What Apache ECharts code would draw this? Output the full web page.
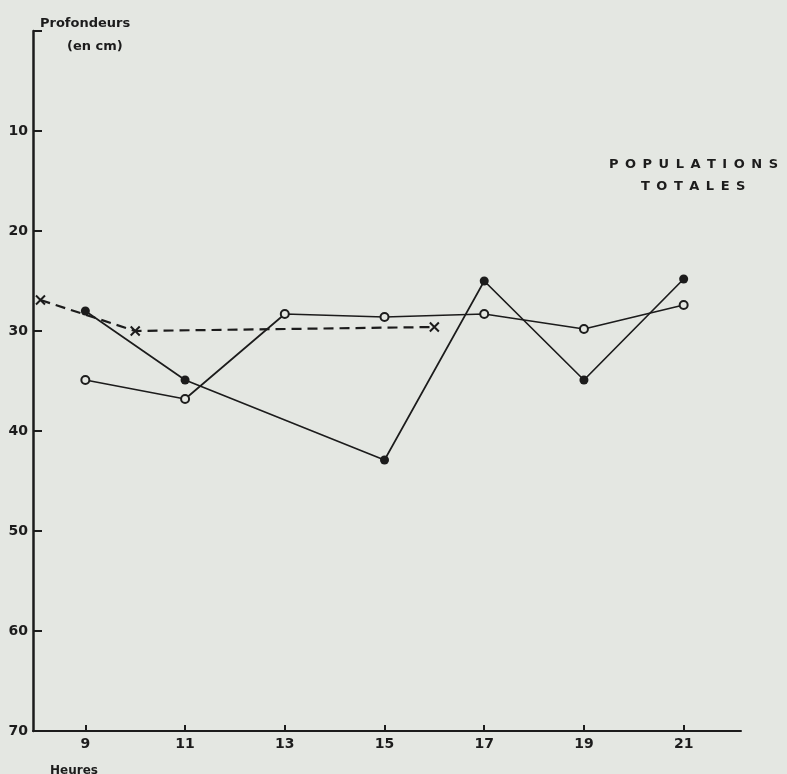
<!DOCTYPE html>
<html><head><meta charset="utf-8">
<script src="https://cdn.jsdelivr.net/npm/echarts@6/dist/echarts.min.js"></script>
<style>html,body{margin:0;padding:0;background:#e4e7e2;}#c{width:787px;height:774px;}</style>
</head><body><div id="c"></div>
<script>
// Data (hours, depth in cm)
const xTicks = [9, 11, 13, 15, 17, 19, 21];
const yTicks = [10, 20, 30, 40, 50, 60, 70];
const crossHours = [8.1, 10, 16];
const crossDepth = [26.9, 30.0, 29.6];
const filledHours = [9, 11, 15, 17, 19, 21];
const filledDepth = [28.0, 34.9, 42.9, 25.0, 34.9, 24.8];
const openHours = [9, 11, 13, 15, 17, 19, 21];
const openDepth = [34.9, 36.8, 28.3, 28.6, 28.3, 29.8, 27.4];

const ink = '#1c1c1c';
const bg = '#e4e7e2';
const font = "'DejaVu Sans', sans-serif";
const zip = (a, b) => a.map((v, i) => [v, b[i]]);

const chart = echarts.init(document.getElementById('c'), null, {renderer: 'canvas'});
chart.setOption({
  backgroundColor: bg,
  animation: false,
  grid: {left: 33, right: 46, top: 31, bottom: 43, containLabel: false},
  title: [
    {text: 'Profondeurs', left: 35, top: 12, textStyle: {fontFamily: font, fontSize: 13, fontWeight: 'bold', color: ink}},
    {text: '(en cm)', left: 62, top: 35, textStyle: {fontFamily: font, fontSize: 13, fontWeight: 'bold', color: ink}},
    {text: 'P\u2002O\u2002P\u2002U\u2002L\u2002A\u2002T\u2002I\u2002O\u2002N\u2002S', right: 4, top: 153, textStyle: {fontFamily: font, fontSize: 13, fontWeight: 'bold', color: ink}},
    {text: 'T\u2002O\u2002T\u2002A\u2002L\u2002E\u2002S', left: 636, top: 175, textStyle: {fontFamily: font, fontSize: 13, fontWeight: 'bold', color: ink}},
    {text: 'Heures', left: 45, top: 760, textStyle: {fontFamily: font, fontSize: 12, fontWeight: 'bold', color: ink}}
  ],
  xAxis: {
    type: 'value', min: 7.95, max: 22.15, position: 'bottom',
    axisLine: {onZero: false, lineStyle: {color: ink, width: 2}},
    axisTick: {show: true, inside: true, length: 6, customValues: xTicks, lineStyle: {color: ink, width: 2}},
    axisLabel: {customValues: xTicks, margin: 6, color: ink, fontFamily: font, fontSize: 14, fontWeight: 'bold'},
    splitLine: {show: false}
  },
  yAxis: {
    type: 'value', inverse: true, min: 0, max: 70, interval: 10, position: 'left',
    axisLine: {onZero: false, lineStyle: {color: ink, width: 2.5}},
    axisTick: {show: true, inside: true, length: 9, lineStyle: {color: ink, width: 2}},
    axisLabel: {customValues: yTicks, margin: 5, color: ink, fontFamily: font, fontSize: 14, fontWeight: 'bold'},
    splitLine: {show: false}
  },
  series: [
    {
      type: 'line', data: zip(crossHours, crossDepth),
      lineStyle: {color: ink, width: 2.2, type: [10, 6]},
      symbol: 'path://M0,0L10,10M10,0L0,10', symbolSize: 9,
      itemStyle: {color: 'transparent', borderColor: ink, borderWidth: 2},
      z: 2
    },
    {
      type: 'line', data: zip(filledHours, filledDepth),
      lineStyle: {color: ink, width: 1.7},
      symbol: 'circle', symbolSize: 9,
      itemStyle: {color: ink, borderColor: ink, borderWidth: 0},
      z: 3
    },
    {
      type: 'line', data: zip(openHours, openDepth),
      lineStyle: {color: ink, width: 1.7},
      symbol: 'circle', symbolSize: 8,
      itemStyle: {color: bg, borderColor: ink, borderWidth: 2},
      z: 4
    }
  ]
});
</script>
</body></html>
